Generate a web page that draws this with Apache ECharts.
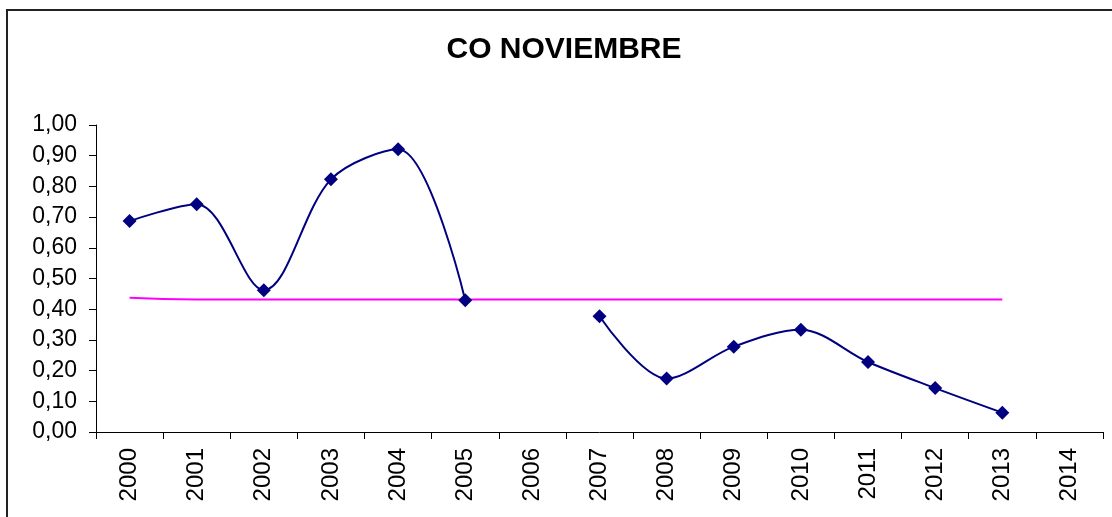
<!DOCTYPE html>
<html>
<head>
<meta charset="utf-8">
<script src="https://cdn.jsdelivr.net/npm/echarts@6/dist/echarts.min.js"></script>
</head>
<body style="margin:0;background:#fff;">
<div id="main" style="width:1112px;height:517px;"></div>
<script type="text/javascript">
// categories (years) and values
var years = ['2000', '2001', '2002', '2003', '2004', '2005', '2006', '2007',
             '2008', '2009', '2010', '2011', '2012', '2013', '2014'];
var coValues = [0.687, 0.742, 0.462, 0.823, 0.921, 0.429, null, 0.377,
                0.174, 0.278, 0.333, 0.228, 0.143, 0.063, null];
var meanValues = [0.437, 0.432, 0.432, 0.432, 0.432, 0.432, 0.432, 0.432,
                  0.432, 0.432, 0.432, 0.432, 0.432, 0.432, null];
var yTicks = [0, 1, 0.1]; // min, max, interval

var myChart = echarts.init(document.getElementById('main'));

var option = {
  animation: false,
  backgroundColor: '#fff',
  title: {
    text: 'CO NOVIEMBRE',
    left: 559,
    top: 30,
    textAlign: 'center',
    textStyle: {
      fontFamily: 'Liberation Sans',
      fontWeight: 'bold',
      fontSize: 30,
      color: '#000'
    }
  },
  graphic: [{
    type: 'rect',
    shape: { x: 7, y: 10, width: 1200, height: 600 },
    style: { fill: 'none', stroke: '#222', lineWidth: 2 },
    silent: true
  }],
  grid: {
    left: 96,
    right: 9,
    top: 125,
    bottom: 85
  },
  xAxis: {
    type: 'category',
    data: years,
    boundaryGap: true,
    axisLine: { lineStyle: { color: '#000', width: 1 } },
    axisTick: { show: true, length: 7, lineStyle: { color: '#000' } },
    axisLabel: {
      rotate: 90,
      margin: 16,
      interval: 0,
      fontFamily: 'Liberation Sans',
      fontSize: 24,
      color: '#000'
    },
    splitLine: { show: false }
  },
  yAxis: {
    type: 'value',
    min: yTicks[0],
    max: yTicks[1],
    interval: yTicks[2],
    axisLine: { show: true, lineStyle: { color: '#000', width: 1 } },
    axisTick: { show: true, length: 7, lineStyle: { color: '#000' } },
    axisLabel: {
      margin: 19,
      fontFamily: 'Liberation Sans',
      fontSize: 23,
      color: '#000',
      formatter: function (v) { return v.toFixed(2).replace('.', ','); }
    },
    splitLine: { show: false }
  },
  series: [{
    name: 'media',
    type: 'line',
    data: meanValues,
    smooth: true,
    symbol: 'none',
    lineStyle: { color: '#ff00ff', width: 2 },
    z: 2
  }, {
    name: 'CO',
    type: 'line',
    data: coValues,
    smooth: 0.33,
    symbol: 'diamond',
    symbolSize: 14,
    itemStyle: { color: '#000080' },
    lineStyle: { color: '#000080', width: 2 },
    z: 3
  }]
};

myChart.setOption(option);
</script>
</body>
</html>
